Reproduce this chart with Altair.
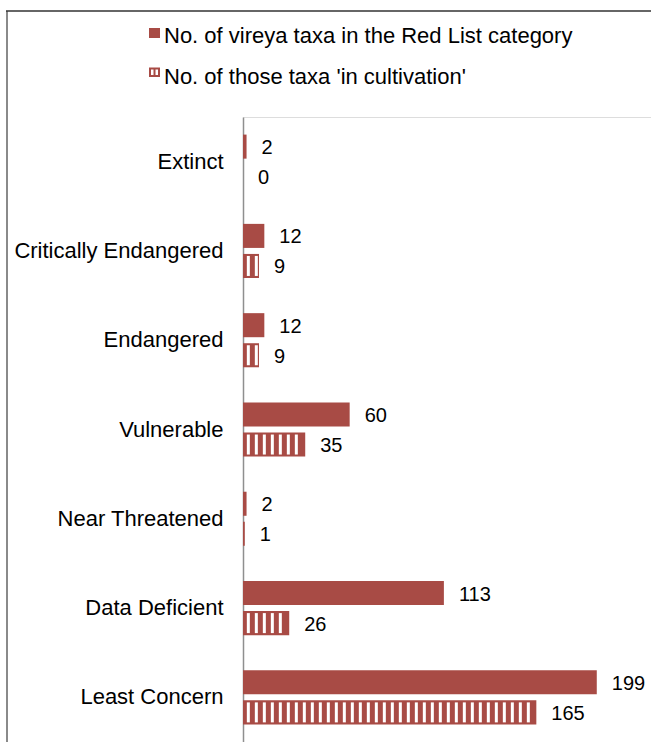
import altair as alt
import pandas as pd

# IUCN Red List categories for vireya rhododendrons
categories = [
    "Extinct",
    "Critically Endangered",
    "Endangered",
    "Vulnerable",
    "Near Threatened",
    "Data Deficient",
    "Least Concern",
]
red_list_counts = [2, 12, 12, 60, 2, 113, 199]
cultivated_counts = [0, 9, 9, 35, 1, 26, 165]
series_labels = [
    "No. of vireya taxa in the Red List category",
    "No. of those taxa 'in cultivation'",
]

RED = "#A84B45"
FONT = "Liberation Sans"
PLOT_W, PLOT_H = 408, 625

rows = []
for cat, a, b in zip(categories, red_list_counts, cultivated_counts):
    rows.append({"category": cat, "series": series_labels[0], "value": a})
    rows.append({"category": cat, "series": series_labels[1], "value": b})
df = pd.DataFrame(rows)

y_enc = alt.Y(
    "category:N",
    sort=categories,
    scale=alt.Scale(paddingInner=0.394, paddingOuter=0.197),
    axis=alt.Axis(
        title=None,
        ticks=False,
        labelPadding=20,
        labelFontSize=22,
        labelColor="#000000",
        labelFont=FONT,
        domainColor="#8f8f8f",
        domainWidth=1.5,
        labelLimit=400,
    ),
)
yoff_enc = alt.YOffset(
    "series:N",
    sort=series_labels,
    scale=alt.Scale(paddingInner=0.2, paddingOuter=0),
)
x_enc = alt.X("value:Q", scale=alt.Scale(domain=[0, 229.5], nice=False), axis=None)

base = alt.Chart(df)

bars = base.mark_bar(color=RED).encode(y=y_enc, yOffset=yoff_enc, x=x_enc)

values = base.mark_text(
    align="left", baseline="middle", dx=15, dy=1.5, fontSize=20, font=FONT, color="#000000"
).encode(y=y_enc, yOffset=yoff_enc, x=x_enc, text="value:Q")

# vertical white stripes over the 'in cultivation' bars
stripes = (
    base.transform_filter(alt.datum.series == series_labels[1])
    .transform_calculate(pos="sequence(3.0, datum.value - 1.2, 4.5)")
    .transform_flatten(["pos"])
    .mark_tick(orient="vertical", thickness=3, size=20, color="white", opacity=1)
    .encode(
        y=y_enc,
        yOffset=yoff_enc,
        x=alt.X("pos:Q", scale=alt.Scale(domain=[0, 229.5], nice=False), axis=None),
    )
)

one = pd.DataFrame({"k": [0]})

# legend
leg_sq = alt.Chart(one).mark_rect(color=RED).encode(
    x=alt.value(-94), x2=alt.value(-83), y=alt.value(-89), y2=alt.value(-79)
)
leg_hatch = alt.Chart(one).mark_rect(color=RED).encode(
    x=alt.value(-94), x2=alt.value(-83), y=alt.value(-49.5), y2=alt.value(-40)
)
leg_white1 = alt.Chart(one).mark_rect(color="white").encode(
    x=alt.value(-92), x2=alt.value(-89.5), y=alt.value(-47.5), y2=alt.value(-42)
)
leg_white2 = alt.Chart(one).mark_rect(color="white").encode(
    x=alt.value(-87.5), x2=alt.value(-85), y=alt.value(-47.5), y2=alt.value(-42)
)
leg_txt1 = alt.Chart(pd.DataFrame({"label": [series_labels[0]]})).mark_text(
    align="left", baseline="alphabetic", fontSize=22, font=FONT, color="#000000"
).encode(x=alt.value(-79), y=alt.value(-73.7), text="label:N")
leg_txt2 = alt.Chart(pd.DataFrame({"label": [series_labels[1]]})).mark_text(
    align="left", baseline="alphabetic", fontSize=22, font=FONT, color="#000000"
).encode(x=alt.value(-79), y=alt.value(-33), text="label:N")

# chart frame
frame_left = alt.Chart(one).mark_rule(color="#8a8a8a", strokeWidth=2).encode(
    x=alt.value(-236), y=alt.value(-106), y2=alt.value(PLOT_H)
)
frame_top = alt.Chart(one).mark_rule(color="#333333", strokeWidth=1.5).encode(
    x=alt.value(-237), x2=alt.value(PLOT_W), y=alt.value(-106)
)

chart = (
    alt.layer(
        frame_left,
        frame_top,
        bars,
        stripes,
        values,
        leg_sq,
        leg_hatch,
        leg_white1,
        leg_white2,
        leg_txt1,
        leg_txt2,
    )
    .properties(
        width=PLOT_W,
        height=PLOT_H,
        autosize=alt.AutoSizeParams(type="none"),
        padding={"left": 243, "top": 117, "right": 0, "bottom": 0},
        background="white",
    )
    .configure_view(stroke=None)
    .configure(font=FONT)
)

chart.save("out.html", embed_options={"renderer": "svg", "actions": False})
